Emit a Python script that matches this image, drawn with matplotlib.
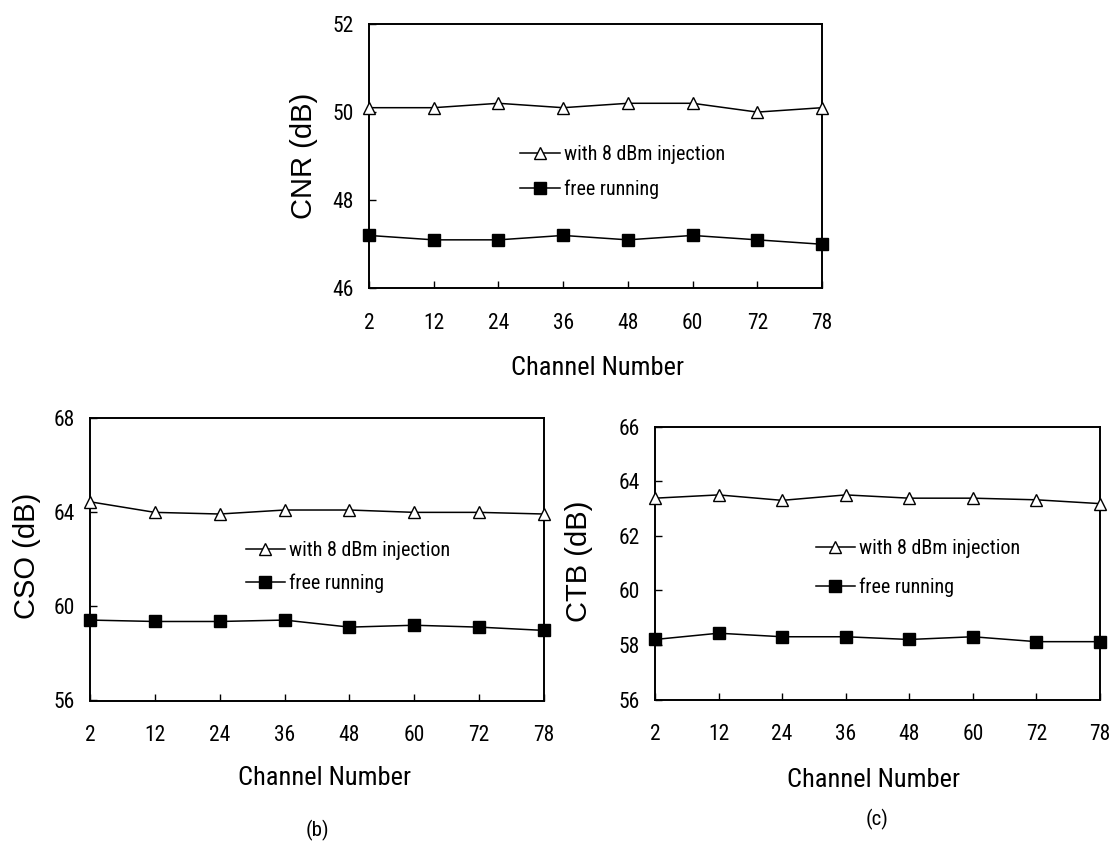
import matplotlib
matplotlib.use("Agg")
import matplotlib.pyplot as plt
from matplotlib import font_manager

# ---- pick a condensed sans font if one is installed ----
_fonts = font_manager.fontManager.ttflist
_names = {f.name for f in _fonts}
NARROW_FAMILY, NARROW_STRETCH, NARROW_SCALE = "Liberation Sans", "normal", 0.86
for cand in ["Liberation Sans Narrow", "Arial Narrow", "Roboto Condensed",
             "Open Sans Condensed", "Nimbus Sans Narrow", "Noto Sans Condensed"]:
    if cand in _names:
        NARROW_FAMILY, NARROW_STRETCH, NARROW_SCALE = cand, "normal", 1.0
        break
else:
    for f in _fonts:
        if f.name in ("DejaVu Sans", "Noto Sans", "Open Sans", "Roboto") and \
                str(f.stretch) in ("condensed", "semi-condensed", "extra-condensed"):
            NARROW_FAMILY, NARROW_STRETCH, NARROW_SCALE = f.name, f.stretch, 0.95
            break
REG = "Liberation Sans"


def nfont(size):
    return dict(family=NARROW_FAMILY, stretch=NARROW_STRETCH, size=size * NARROW_SCALE)


channels = ["2", "12", "24", "36", "48", "60", "72", "78"]
series_labels = ["with 8 dBm injection", "free running"]

cnr_injected = [50.1, 50.1, 50.2, 50.1, 50.2, 50.2, 50.0, 50.1]
cnr_free = [47.2, 47.1, 47.1, 47.2, 47.1, 47.2, 47.1, 47.0]

cso_injected = [64.45, 64.0, 63.93, 64.1, 64.1, 64.0, 64.0, 63.93]
cso_free = [59.42, 59.36, 59.36, 59.42, 59.12, 59.2, 59.12, 58.98]

ctb_injected = [63.38, 63.5, 63.3, 63.5, 63.38, 63.38, 63.32, 63.18]
ctb_free = [58.2, 58.43, 58.3, 58.3, 58.2, 58.3, 58.12, 58.12]

W, H = 1114, 842
fig = plt.figure(figsize=(W / 100, H / 100), dpi=100)


def axrect(x0, x1, y0, y1):
    return [x0 / W, 1 - y1 / H, (x1 - x0) / W, (y1 - y0) / H]


panels = [
    dict(rect=axrect(369, 822, 24, 288.3), inj=cnr_injected, free=cnr_free,
         ylim=(46, 52), yticks=[46, 48, 50, 52], ylabel="CNR (dB)",
         leg=(0.334, 0.440), lsp=0.80, xl=(0.505, -0.303), yl=(-0.1435, 0.5025)),
    dict(rect=axrect(90, 544, 418.3, 700.5), inj=cso_injected, free=cso_free,
         ylim=(56, 68), yticks=[56, 60, 64, 68], ylabel="CSO (dB)",
         leg=(0.343, 0.474), lsp=0.66, xl=(0.517, -0.276), yl=(-0.139, 0.513)),
    dict(rect=axrect(655, 1100, 426.7, 699.5), inj=ctb_injected, free=ctb_free,
         ylim=(56, 66), yticks=[56, 58, 60, 62, 64, 66], ylabel="CTB (dB)",
         leg=(0.361, 0.482), lsp=0.97, xl=(0.491, -0.295), yl=(-0.171, 0.505)),
]

xpos = list(range(len(channels)))

for p in panels:
    ax = fig.add_axes(p["rect"])
    l1, = ax.plot(xpos, p["inj"], color="black", lw=1.1, marker="^", markersize=9,
                  markerfacecolor="white", markeredgecolor="black", markeredgewidth=1.0,
                  clip_on=False, zorder=3)
    l2, = ax.plot(xpos, p["free"], color="black", lw=1.1, marker="s", markersize=8,
                  markerfacecolor="black", markeredgecolor="black",
                  clip_on=False, zorder=3)
    ax.set_xlim(0, len(channels) - 1)
    ax.set_ylim(*p["ylim"])
    ax.set_xticks(xpos)
    ax.set_xticklabels(channels)
    ax.set_yticks(p["yticks"])
    ax.tick_params(direction="in", length=5, width=1.0, top=False, right=False,
                   color="black")
    ax.tick_params(axis="x", pad=17.5)
    ax.tick_params(axis="y", pad=10.8)
    tp = nfont(15.5)
    for lab in ax.get_xticklabels() + ax.get_yticklabels():
        lab.set_fontfamily(tp["family"])
        lab.set_fontstretch(tp["stretch"])
        lab.set_fontsize(tp["size"])
    for s in ax.spines.values():
        s.set_linewidth(1.4)
        s.set_color("black")
    xp = nfont(19)
    ax.set_xlabel("Channel Number", fontsize=xp["size"], family=xp["family"],
                  fontstretch=xp["stretch"], va="center")
    ax.xaxis.set_label_coords(*p["xl"])
    ax.set_ylabel(p["ylabel"], fontsize=21, family=REG, va="center")
    ax.yaxis.set_label_coords(*p["yl"])
    ax.legend([l1, l2], series_labels, loc="center left", bbox_to_anchor=p["leg"],
              frameon=False, borderpad=0, borderaxespad=0, handlelength=1.95,
              handletextpad=0.2, labelspacing=p["lsp"],
              prop=font_manager.FontProperties(**nfont(14.5)))

cp = nfont(15)
fig.text(317.9 / W, 1 - 830.8 / H, "(b)", ha="center", va="center", fontsize=cp["size"],
         family=cp["family"], fontstretch=cp["stretch"])
fig.text(877.3 / W, 1 - 819 / H, "(c)", ha="center", va="center", fontsize=cp["size"],
         family=cp["family"], fontstretch=cp["stretch"])

fig.savefig("out.png", dpi=100)
